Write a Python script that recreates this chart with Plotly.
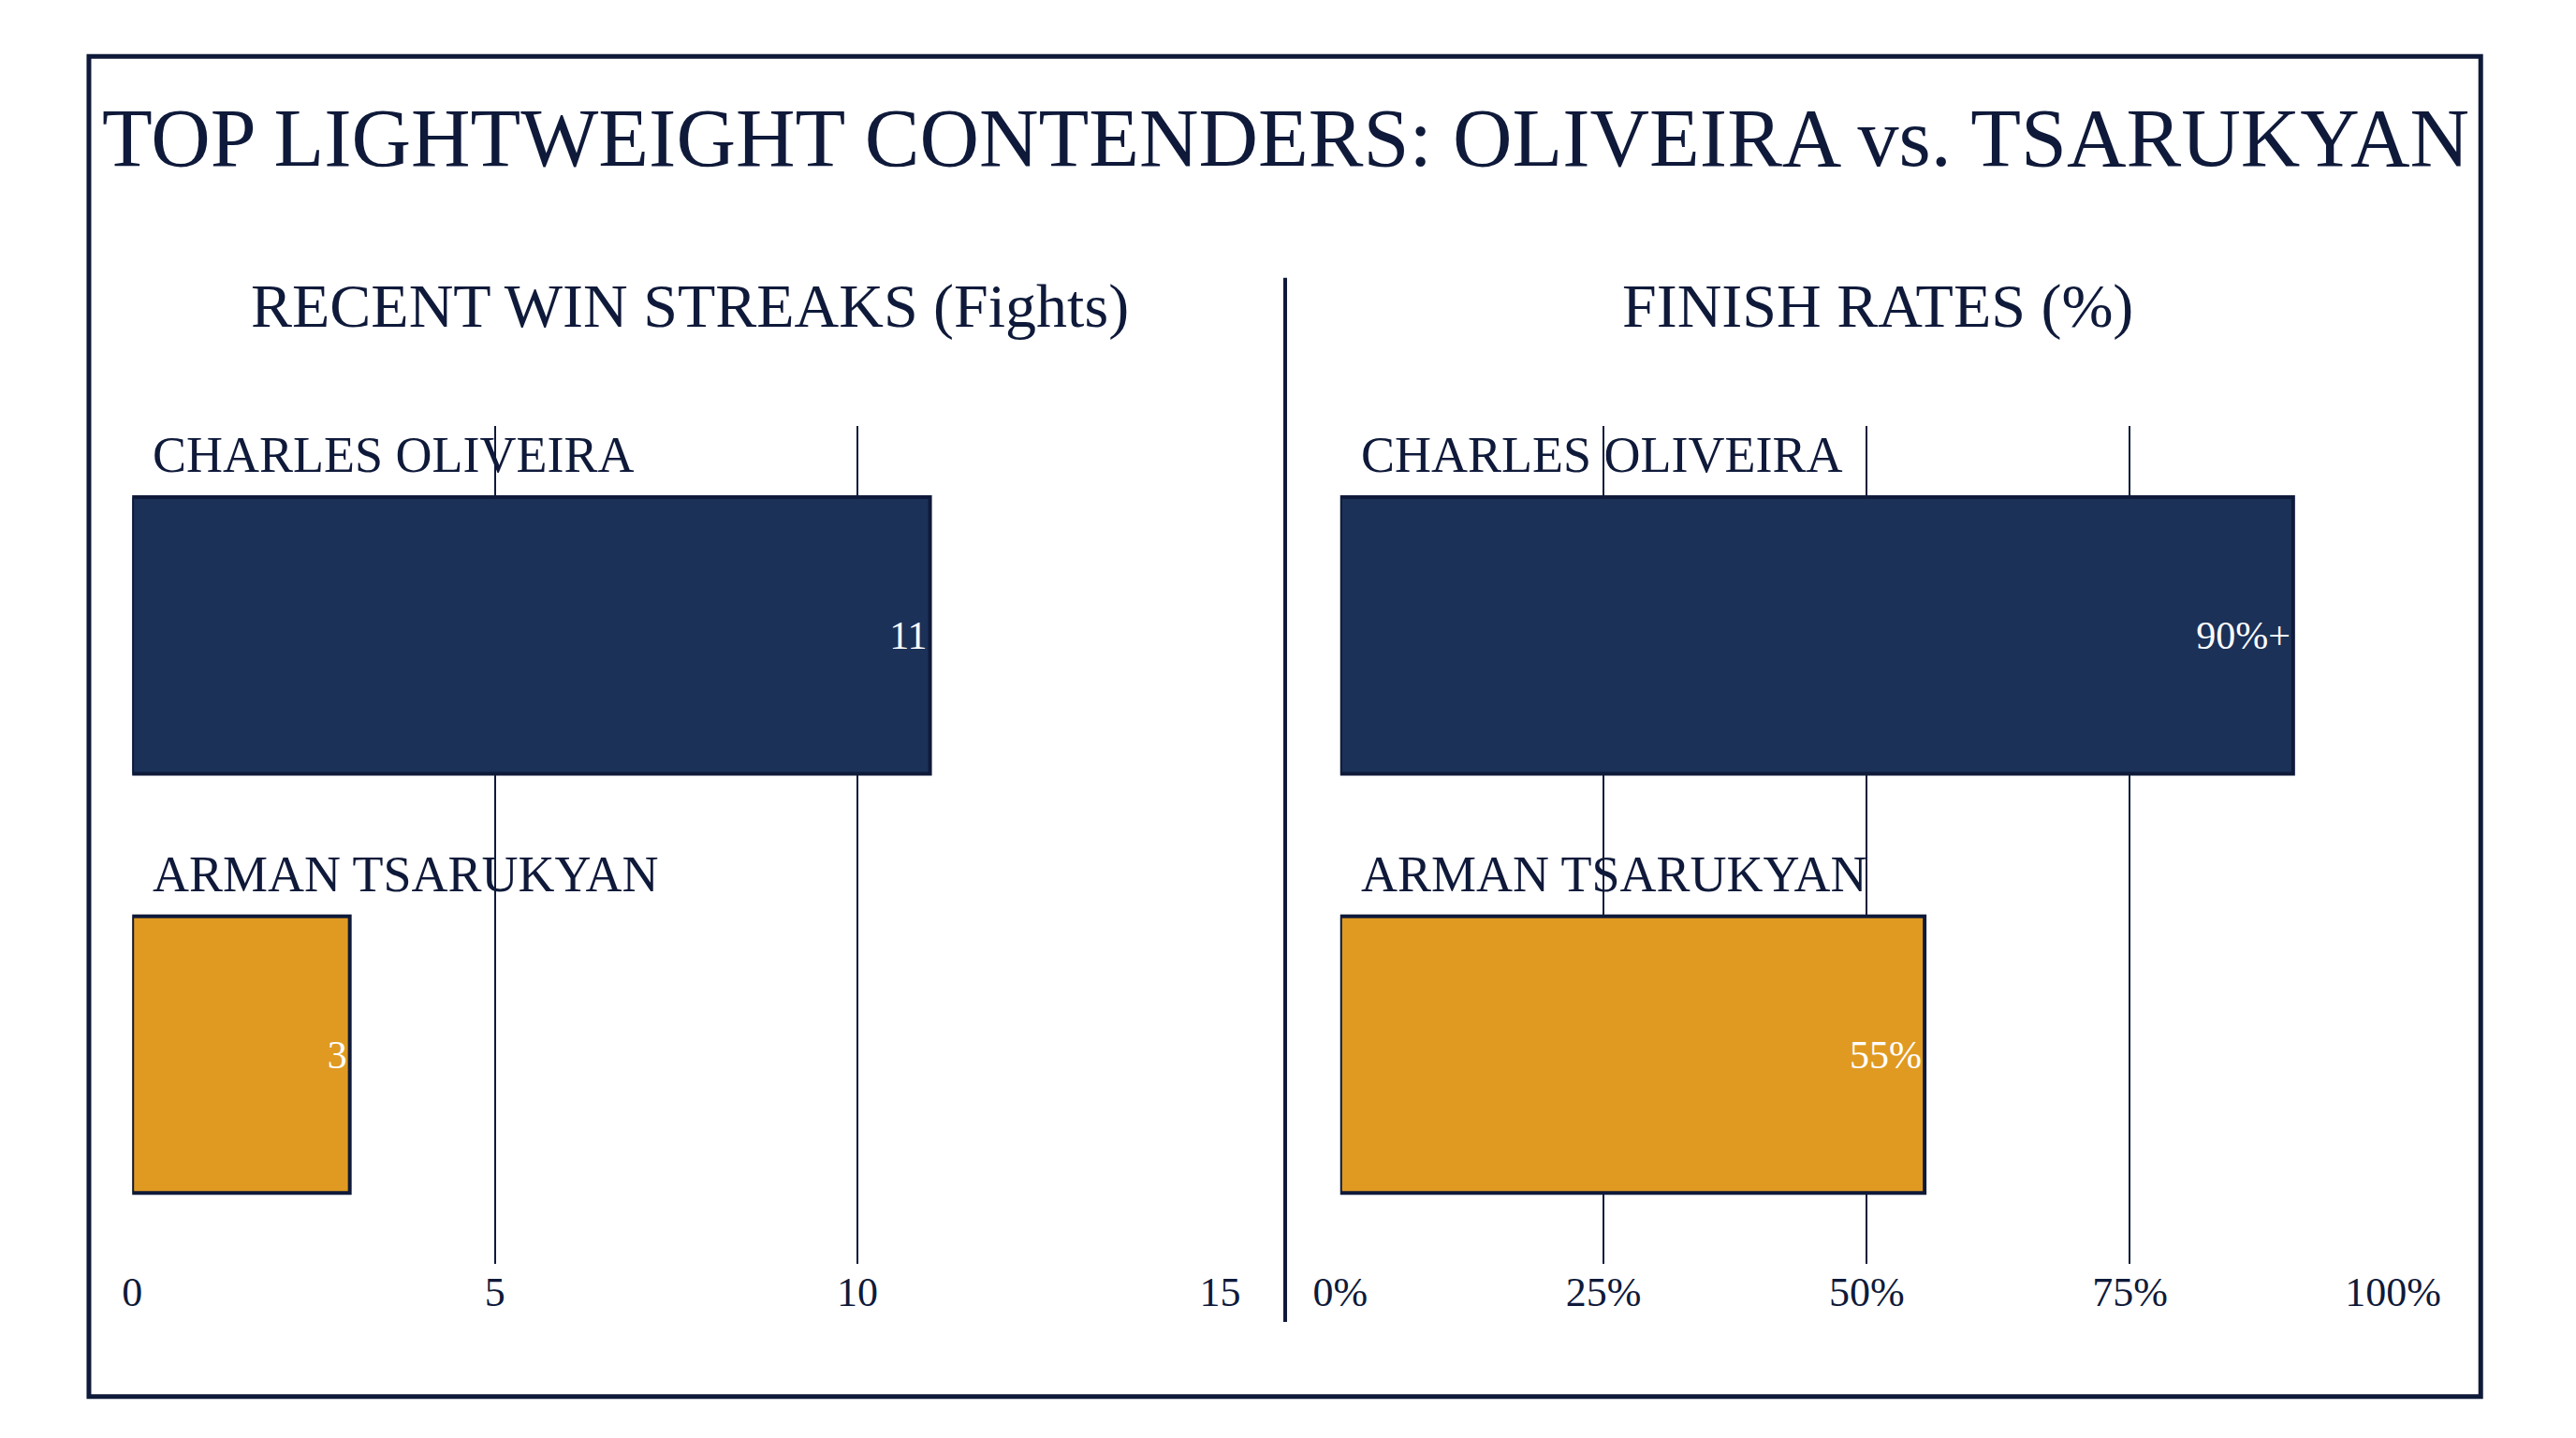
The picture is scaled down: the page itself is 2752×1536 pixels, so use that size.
import plotly.graph_objects as go

fighters = ["CHARLES OLIVEIRA", "ARMAN TSARUKYAN"]
win_streaks = [11, 3]
win_labels = ["11", "3"]
win_ticks = [0, 5, 10, 15]
finish_rates = [90.5, 55.5]
finish_labels = ["90%+", "55%"]
finish_ticks = [0, 25, 50, 75, 100]
bar_colors = ["#1b3158", "#e09a22"]

FONT = "Liberation Serif"
NAVY = "#0f1a3a"

fig = go.Figure()
ypos = list(range(len(fighters)))

for vals, labels, xa, ya in [(win_streaks, win_labels, "x", "y"),
                             (finish_rates, finish_labels, "x2", "y2")]:
    fig.add_trace(go.Bar(
        x=vals, y=ypos, orientation="h", width=0.66,
        marker=dict(color=bar_colors, line=dict(color=NAVY, width=4)),
        text=labels, textposition="inside", insidetextanchor="end",
        textfont=dict(family=FONT, size=42, color="white"),
        xaxis=xa, yaxis=ya, hoverinfo="skip"))

common_x = dict(showgrid=True, gridcolor=NAVY, gridwidth=2, zeroline=False,
                showline=False, ticks="", tickfont=dict(family=FONT, size=44, color=NAVY))
common_y = dict(range=[1.5, -0.5], showticklabels=False, showgrid=False,
                zeroline=False, domain=[0.126, 0.709])

annotations = [
    dict(text="TOP LIGHTWEIGHT CONTENDERS: OLIVEIRA vs. TSARUKYAN", x=0.5, y=0.909,
         xref="paper", yref="paper", xanchor="center", yanchor="middle", showarrow=False,
         font=dict(family=FONT, size=88, color=NAVY)),
    dict(text="RECENT WIN STREAKS (Fights)", x=0.262, y=0.792, xref="paper", yref="paper",
         xanchor="center", yanchor="middle", showarrow=False,
         font=dict(family=FONT, size=66, color=NAVY)),
    dict(text="FINISH RATES (%)", x=0.737, y=0.792, xref="paper", yref="paper",
         xanchor="center", yanchor="middle", showarrow=False,
         font=dict(family=FONT, size=66, color=NAVY)),
]
for xa, ya in [("x", "y"), ("x2", "y2")]:
    for i, name in enumerate(fighters):
        annotations.append(dict(text=name, x=0, y=i - 0.43, xref=xa, yref=ya,
                                xanchor="left", yanchor="middle", xshift=20, showarrow=False,
                                font=dict(family=FONT, size=54, color=NAVY)))

fig.update_layout(
    width=2752, height=1536,
    margin=dict(l=0, r=0, t=0, b=0),
    paper_bgcolor="white", plot_bgcolor="white",
    showlegend=False, barmode="overlay",
    xaxis=dict(range=[0, 15], domain=[0.039, 0.474], tickvals=win_ticks,
               ticktext=[str(t) for t in win_ticks], **common_x),
    yaxis=dict(anchor="x", **common_y),
    xaxis2=dict(range=[0, 100], domain=[0.522, 0.943], tickvals=finish_ticks,
                ticktext=[f"{t}%" for t in finish_ticks], **common_x),
    yaxis2=dict(anchor="x2", **common_y),
    annotations=annotations,
    shapes=[
        dict(type="rect", xref="paper", yref="paper", x0=0.0217, x1=0.978, y0=0.034, y1=0.966,
             line=dict(color=NAVY, width=5)),
        dict(type="line", xref="paper", yref="paper", x0=0.5, x1=0.5, y0=0.086, y1=0.812,
             line=dict(color=NAVY, width=4)),
    ],
)

fig.write_html("out.html")
